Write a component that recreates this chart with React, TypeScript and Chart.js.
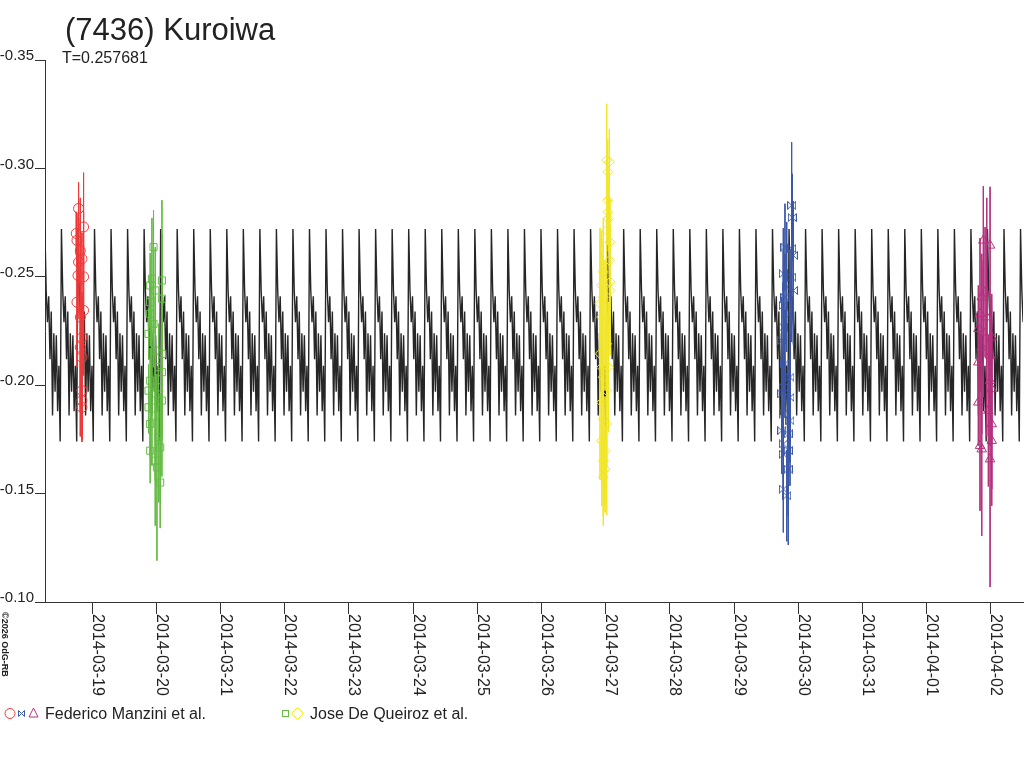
import React, { useEffect, useRef } from 'react';
import { Chart, registerables } from 'chart.js';

Chart.register(...registerables);

const FONT = '"Liberation Sans", Arial, Helvetica, sans-serif';
const TEXT_COLOR = '#222222';
const AXIS_COLOR = '#333333';

const TITLE = '(7436) Kuroiwa';
const SUBTITLE = 'T=0.257681';
const COPYRIGHT = '©2026 OdG-RB';

// x values are "day of March 2014" (19 = 2014-03-19 00:00 UT)
const X_MIN = 18.263;
const X_MAX = 33.503;
const X_TICKS = [19, 20, 21, 22, 23, 24, 25, 26, 27, 28, 29, 30, 31, 32, 33];
const X_TICK_LABELS = [
  '2014-03-19', '2014-03-20', '2014-03-21', '2014-03-22', '2014-03-23',
  '2014-03-24', '2014-03-25', '2014-03-26', '2014-03-27', '2014-03-28',
  '2014-03-29', '2014-03-30', '2014-03-31', '2014-04-01', '2014-04-02',
];
const Y_MIN = -0.35;
const Y_MAX = -0.1;
const Y_TICKS = [-0.35, -0.3, -0.25, -0.2, -0.15, -0.1];

// Model light curve: one period (T) of the sampled model, repeated by period
const PERIOD = 0.257681;
const MODEL_EPOCH = 22.642;
const MODEL_PROFILE = [
  -0.272, -0.244, -0.229, -0.241, -0.212, -0.234, -0.186,
  -0.224, -0.197, -0.223, -0.188, -0.209, -0.174,
];

// Federico Manzini et al. — session 1 (red circles)
const MANZ1_T = [18.786, 18.864, 18.75, 18.761, 18.813, 18.786, 18.839, 18.777, 18.864, 18.761, 18.864, 18.813, 18.839, 18.813, 18.839, 18.839, 18.839, 18.839];
const MANZ1_MAG = [-0.2815, -0.273, -0.27, -0.2668, -0.262, -0.2568, -0.2583, -0.2506, -0.25, -0.2383, -0.2345, -0.2314, -0.222, -0.2175, -0.2129, -0.1975, -0.1929, -0.1898];
const MANZ1_ERR = [0.012, 0.025, 0.01, 0.012, 0.015, 0.01, 0.012, 0.02, 0.03, 0.03, 0.03, 0.055, 0.025, 0.03, 0.03, 0.02, 0.018, 0.016];

// Jose De Queiroz et al. — session 1 (green squares)
const QUEI1_T = [19.954, 19.929, 20.085, 19.902, 19.981, 19.902, 20.085, 19.902, 19.954, 19.876, 19.981, 20.085, 20.032, 19.902, 20.085, 19.876, 20.032, 19.929, 20.085, 19.876, 19.981, 19.902, 20.032, 19.902, 20.058, 19.981, 20.007, 20.058];
const QUEI1_MAG = [-0.2637, -0.2491, -0.2483, -0.246, -0.2437, -0.2383, -0.2399, -0.2329, -0.2283, -0.2237, -0.216, -0.2145, -0.2083, -0.2021, -0.206, -0.1975, -0.199, -0.1929, -0.1929, -0.1898, -0.186, -0.1821, -0.176, -0.1698, -0.1713, -0.1652, -0.1621, -0.1551];
const QUEI1_ERR = [0.017, 0.028, 0.037, 0.015, 0.02, 0.012, 0.03, 0.015, 0.02, 0.012, 0.025, 0.03, 0.02, 0.015, 0.03, 0.012, 0.025, 0.03, 0.035, 0.012, 0.03, 0.015, 0.03, 0.015, 0.025, 0.03, 0.043, 0.021];

// Jose De Queiroz et al. — session 2 (yellow diamonds)
const QUEI2_T = [27.016, 27.057, 27.032, 27.032, 27.032, 27.041, 27.016, 27.068, 27.057, 26.963, 27.068, 26.938, 26.963, 26.912, 27.068, 26.938, 26.99, 26.963, 27.016, 26.912, 26.938, 27.041, 26.963, 27.016, 26.938, 26.963, 27.016, 26.938, 26.99, 26.963, 26.99, 26.963];
const QUEI2_MAG = [-0.3038, -0.303, -0.2984, -0.2853, -0.2799, -0.2768, -0.2714, -0.266, -0.2576, -0.2522, -0.2476, -0.246, -0.2406, -0.2376, -0.2437, -0.2314, -0.2275, -0.2221, -0.2191, -0.2145, -0.2083, -0.2083, -0.2037, -0.1975, -0.1921, -0.1844, -0.1821, -0.1744, -0.1698, -0.1652, -0.1613, -0.1575];
const QUEI2_ERR = [0.026, 0.015, 0.015, 0.015, 0.015, 0.015, 0.03, 0.02, 0.03, 0.025, 0.02, 0.025, 0.02, 0.03, 0.03, 0.025, 0.03, 0.025, 0.03, 0.058, 0.058, 0.03, 0.03, 0.035, 0.03, 0.03, 0.042, 0.03, 0.025, 0.03, 0.02, 0.018];

// Federico Manzini et al. — session 2 (blue stars)
const MANZ2_T = [29.898, 29.908, 29.794, 29.898, 29.924, 29.768, 29.898, 29.821, 29.924, 29.794, 29.768, 29.872, 29.768, 29.743, 29.794, 29.872, 29.768, 29.743, 29.872, 29.768, 29.872, 29.743, 29.845, 29.768, 29.845, 29.768, 29.845, 29.768, 29.821];
const MANZ2_MAG = [-0.283, -0.2773, -0.2637, -0.263, -0.2599, -0.2514, -0.2499, -0.2453, -0.2437, -0.2406, -0.2368, -0.2329, -0.2268, -0.2206, -0.2099, -0.2037, -0.199, -0.196, -0.1944, -0.1867, -0.1836, -0.179, -0.1775, -0.1729, -0.1698, -0.1682, -0.1613, -0.1521, -0.149];
const MANZ2_ERR = [0.029, 0.02, 0.02, 0.035, 0.025, 0.021, 0.03, 0.03, 0.025, 0.02, 0.025, 0.03, 0.02, 0.02, 0.025, 0.03, 0.02, 0.02, 0.03, 0.02, 0.03, 0.02, 0.03, 0.02, 0.03, 0.02, 0.035, 0.02, 0.021];

// Federico Manzini et al. — session 3 (magenta triangles)
const MANZ3_T = [32.885, 32.99, 32.86, 32.912, 32.833, 32.938, 32.807, 32.885, 33.016, 32.86, 32.99, 32.807, 32.99, 33.016, 32.807, 32.963, 33.016, 33.016, 32.833, 32.86, 32.99];
const MANZ3_MAG = [-0.2668, -0.2645, -0.2406, -0.2429, -0.2329, -0.2314, -0.226, -0.2245, -0.2221, -0.2175, -0.2137, -0.2106, -0.2021, -0.1983, -0.1921, -0.1883, -0.1821, -0.1744, -0.1721, -0.1705, -0.1659];
const MANZ3_ERR = [0.025, 0.027, 0.02, 0.03, 0.035, 0.055, 0.02, 0.03, 0.02, 0.04, 0.025, 0.02, 0.03, 0.025, 0.02, 0.035, 0.03, 0.03, 0.03, 0.04, 0.059];

const RED = '#ee3a3a';
const GREEN = '#66bb46';
const YELLOW = '#f2e62a';
const BLUE = '#3c58a8';
const MAGENTA = '#b4327e';
const MODEL_COLOR = '#262626';

const LEGEND_1 = 'Federico Manzini et al.';
const LEGEND_2 = 'Jose De Queiroz et al.';

function drawBowtie(g: CanvasRenderingContext2D, cx: number, cy: number, h: number, color: string) {
  g.save();
  g.strokeStyle = color;
  g.lineWidth = 1;
  g.beginPath();
  g.moveTo(cx - h, cy - h); g.lineTo(cx + h, cy + h);
  g.moveTo(cx + h, cy - h); g.lineTo(cx - h, cy + h);
  g.moveTo(cx - h, cy - h); g.lineTo(cx - h, cy + h);
  g.moveTo(cx + h, cy - h); g.lineTo(cx + h, cy + h);
  g.stroke();
  g.restore();
}

function makeBowtieCanvas(size: number, color: string) {
  const c = document.createElement('canvas');
  c.width = size;
  c.height = size;
  const g = c.getContext('2d')!;
  drawBowtie(g, size / 2, size / 2, size / 2 - 0.5, color);
  return c;
}

function points(t: number[], mag: number[]) {
  return t.map((x, i) => ({ x, y: mag[i] }));
}

function errorBars(t: number[], mag: number[], err: number[]) {
  const d: { x: number; y: number | null }[] = [];
  t.forEach((x, i) => {
    d.push({ x, y: mag[i] - err[i] }, { x, y: mag[i] + err[i] }, { x, y: null });
  });
  return d;
}

function modelCurve() {
  const d: { x: number; y: number }[] = [];
  const n = MODEL_PROFILE.length;
  const kStart = Math.floor((X_MIN - MODEL_EPOCH) / PERIOD) - 1;
  const kEnd = Math.ceil((X_MAX - MODEL_EPOCH) / PERIOD) + 1;
  for (let k = kStart; k <= kEnd; k++) {
    MODEL_PROFILE.forEach((m, i) => d.push({ x: MODEL_EPOCH + (k + i / n) * PERIOD, y: m }));
  }
  return d;
}

const textPlugin = {
  id: 'textOverlay',
  afterDraw(chart: any) {
    const ctx: CanvasRenderingContext2D = chart.ctx;
    const xs = chart.scales.x;
    const bottom = chart.chartArea.bottom;
    ctx.save();
    ctx.fillStyle = TEXT_COLOR;
    ctx.textAlign = 'left';
    ctx.textBaseline = 'alphabetic';
    // title
    ctx.font = `31px ${FONT}`;
    ctx.fillText(TITLE, 65, 40);
    ctx.font = `16px ${FONT}`;
    ctx.fillText(SUBTITLE, 62, 63);
    // x tick labels rotated clockwise
    X_TICKS.forEach((v, i) => {
      const px = xs.getPixelForValue(v);
      ctx.save();
      ctx.translate(px + 0.5, bottom + 12);
      ctx.rotate(Math.PI / 2);
      ctx.font = `16px ${FONT}`;
      ctx.fillText(X_TICK_LABELS[i], 0, 0);
      ctx.restore();
    });
    // copyright
    ctx.save();
    ctx.translate(2, 612);
    ctx.rotate(Math.PI / 2);
    ctx.font = `bold 9px ${FONT}`;
    ctx.fillText(COPYRIGHT, 0, 0);
    ctx.restore();
    // legend
    const ly = 713.5;
    ctx.lineWidth = 1;
    ctx.strokeStyle = RED;
    ctx.beginPath();
    ctx.arc(10, ly, 5, 0, Math.PI * 2);
    ctx.stroke();
    drawBowtie(ctx, 21.5, ly, 3, BLUE);
    ctx.strokeStyle = MAGENTA;
    ctx.beginPath();
    ctx.moveTo(33.5, ly - 5.5);
    ctx.lineTo(38, ly + 3.5);
    ctx.lineTo(29, ly + 3.5);
    ctx.closePath();
    ctx.stroke();
    ctx.fillStyle = TEXT_COLOR;
    ctx.font = `16px ${FONT}`;
    ctx.fillText(LEGEND_1, 45, 719);
    ctx.strokeStyle = GREEN;
    ctx.strokeRect(282.5, 710.5, 6, 6);
    ctx.strokeStyle = YELLOW;
    ctx.beginPath();
    ctx.moveTo(297.5, ly - 6);
    ctx.lineTo(303.5, ly);
    ctx.lineTo(297.5, ly + 6);
    ctx.lineTo(291.5, ly);
    ctx.closePath();
    ctx.stroke();
    ctx.fillStyle = TEXT_COLOR;
    ctx.fillText(LEGEND_2, 310, 719);
    ctx.restore();
  },
};

export default function App() {
  const ref = useRef<HTMLCanvasElement | null>(null);

  useEffect(() => {
    if (!ref.current) return;
    Chart.defaults.font.family = FONT;
    const blueMarker = makeBowtieCanvas(9, BLUE);

    const errSet = (t: number[], m: number[], e: number[], color: string) => ({
      type: 'line' as const,
      data: errorBars(t, m, e),
      borderColor: color,
      borderWidth: 1,
      pointRadius: 0,
      spanGaps: false,
      order: 50,
    });
    const ptSet = (t: number[], m: number[], color: string, style: any, r: number) => ({
      type: 'scatter' as const,
      data: points(t, m),
      borderColor: color,
      backgroundColor: 'rgba(0,0,0,0)',
      pointStyle: style,
      pointRadius: r,
      pointBorderWidth: 1,
      order: 0,
    });

    const chart = new Chart(ref.current, {
      type: 'scatter',
      data: {
        datasets: [
          {
            type: 'line',
            data: modelCurve(),
            borderColor: MODEL_COLOR,
            borderWidth: 1.4,
            pointRadius: 0,
            order: 100,
          } as any,
          errSet(MANZ1_T, MANZ1_MAG, MANZ1_ERR, RED),
          errSet(QUEI1_T, QUEI1_MAG, QUEI1_ERR, GREEN),
          errSet(QUEI2_T, QUEI2_MAG, QUEI2_ERR, YELLOW),
          errSet(MANZ2_T, MANZ2_MAG, MANZ2_ERR, BLUE),
          errSet(MANZ3_T, MANZ3_MAG, MANZ3_ERR, MAGENTA),
          ptSet(MANZ1_T, MANZ1_MAG, RED, 'circle', 5),
          ptSet(QUEI1_T, QUEI1_MAG, GREEN, 'rect', 5),
          ptSet(QUEI2_T, QUEI2_MAG, YELLOW, 'rectRot', 5),
          ptSet(MANZ2_T, MANZ2_MAG, BLUE, blueMarker, 5),
          ptSet(MANZ3_T, MANZ3_MAG, MAGENTA, 'triangle', 5.5),
        ] as any,
      },
      options: {
        animation: false,
        responsive: false,
        maintainAspectRatio: false,
        devicePixelRatio: 1,
        events: [],
        layout: { autoPadding: false, padding: { top: 60, right: 1, left: 0, bottom: 0 } },
        plugins: {
          legend: { display: false },
          tooltip: { enabled: false },
          title: { display: false },
        },
        scales: {
          x: {
            type: 'linear',
            min: X_MIN,
            max: X_MAX,
            afterFit: (s: any) => { s.height = 166; },
            afterBuildTicks: (s: any) => { s.ticks = X_TICKS.map((value) => ({ value })); },
            ticks: { display: false },
            grid: { drawOnChartArea: false, drawTicks: true, tickLength: 12, color: AXIS_COLOR, lineWidth: 1 },
            border: { display: true, color: AXIS_COLOR, width: 1 },
          },
          y: {
            type: 'linear',
            reverse: true,
            min: Y_MIN,
            max: Y_MAX,
            afterFit: (s: any) => { s.width = 45; },
            afterBuildTicks: (s: any) => { s.ticks = Y_TICKS.map((value) => ({ value })); },
            ticks: {
              callback: (v: any) => Number(v).toFixed(2),
              padding: 1,
              labelOffset: -4,
              color: TEXT_COLOR,
              font: { family: FONT, size: 15 },
            },
            grid: { drawOnChartArea: false, drawTicks: true, tickLength: 10, color: AXIS_COLOR, lineWidth: 1 },
            border: { display: true, color: AXIS_COLOR, width: 1 },
          },
        },
      } as any,
      plugins: [textPlugin],
    });
    return () => chart.destroy();
  }, []);

  return (
    <div style={{ position: 'fixed', left: 0, top: 0, width: 1024, height: 768, background: '#ffffff', overflow: 'hidden' }}>
      <canvas ref={ref} width={1024} height={768} style={{ display: 'block', width: 1024, height: 768 }} />
    </div>
  );
}
